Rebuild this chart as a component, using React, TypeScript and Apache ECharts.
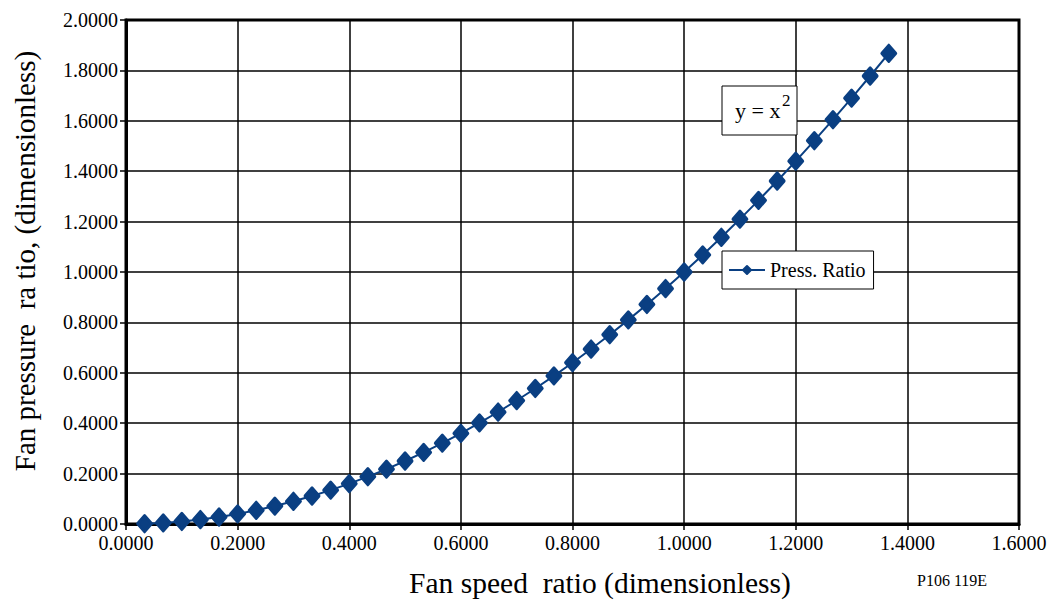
import React, { useEffect, useRef } from "react";
import * as echarts from "echarts";

const speedRatio = [
  0.0333, 0.0667, 0.1, 0.1333, 0.1667, 0.2, 0.2333, 0.2667, 0.3, 0.3333,
  0.3667, 0.4, 0.4333, 0.4667, 0.5, 0.5333, 0.5667, 0.6, 0.6333, 0.6667,
  0.7, 0.7333, 0.7667, 0.8, 0.8333, 0.8667, 0.9, 0.9333, 0.9667, 1.0,
  1.0333, 1.0667, 1.1, 1.1333, 1.1667, 1.2, 1.2333, 1.2667, 1.3, 1.3333,
  1.3667,
];
const pressRatio = [
  0.0011, 0.0044, 0.01, 0.0178, 0.0278, 0.04, 0.0544, 0.0711, 0.09, 0.1111,
  0.1344, 0.16, 0.1878, 0.2178, 0.25, 0.2844, 0.3211, 0.36, 0.4011, 0.4444,
  0.49, 0.5378, 0.5878, 0.64, 0.6944, 0.7511, 0.81, 0.8711, 0.9344, 1.0,
  1.0678, 1.1378, 1.21, 1.2844, 1.3611, 1.44, 1.5211, 1.6044, 1.69, 1.7778,
  1.8678,
];
const seriesName = "Press. Ratio";
const xAxisTitle = "Fan speed  ratio (dimensionless)";
const yAxisTitle = "Fan pressure  ra tio, (dimensionless)";
const formulaText = "y = x";
const formulaExp = "2";
const footnote = "P106 119E";

const FONT = "Liberation Serif";
const BLUE = "#0a3f82";

export default function App() {
  const ref = useRef<HTMLDivElement>(null);
  useEffect(() => {
    const chart = echarts.init(ref.current!, undefined, { renderer: "svg" });
    const data = speedRatio.map((x, i) => [x, pressRatio[i]]);
    const labelStyle = {
      fontFamily: FONT,
      fontSize: 20,
      color: "#000",
      formatter: (v: number) => v.toFixed(4),
    };
    chart.setOption({
      animation: false,
      backgroundColor: "#ffffff",
      textStyle: { fontFamily: FONT, fontSize: 20, color: "#000" },
      grid: {
        left: 126,
        right: 37,
        top: 20,
        bottom: 76,
        show: true,
        borderColor: "#000",
        borderWidth: 3,
      },
      xAxis: {
        type: "value",
        min: 0,
        max: 1.6,
        interval: 0.2,
        name: xAxisTitle,
        nameLocation: "middle",
        nameGap: 44,
        nameTextStyle: { fontFamily: FONT, fontSize: 29.5, color: "#000", padding: [0, 0, 0, 55] },
        axisLine: { show: true, lineStyle: { color: "#000", width: 3 } },
        axisTick: { show: true, length: 6, lineStyle: { color: "#000", width: 1.5 } },
        axisLabel: { ...labelStyle, margin: 9 },
        splitLine: { show: true, lineStyle: { color: "#000", width: 1.5 } },
      },
      yAxis: {
        type: "value",
        min: 0,
        max: 2,
        interval: 0.2,
        name: yAxisTitle,
        nameLocation: "middle",
        nameGap: 87,
        nameTextStyle: { fontFamily: FONT, fontSize: 29, color: "#000", padding: [0, 0, 0, 22] },
        axisLine: { show: true, lineStyle: { color: "#000", width: 3 } },
        axisTick: { show: true, length: 6, lineStyle: { color: "#000", width: 1.5 } },
        axisLabel: { ...labelStyle, margin: 8 },
        splitLine: { show: true, lineStyle: { color: "#000", width: 1.5 } },
      },
      legend: {
        show: true,
        left: 722,
        top: 251,
        orient: "horizontal",
        backgroundColor: "#fff",
        borderColor: "#000",
        borderWidth: 1,
        padding: [9, 8, 9, 6],
        itemWidth: 36,
        itemHeight: 10,
        itemGap: 4,
        textStyle: { fontFamily: FONT, fontSize: 20, color: "#000" },
        data: [{ name: seriesName }],
      },
      series: [
        {
          name: seriesName,
          type: "line",
          data,
          symbol: "diamond",
          symbolSize: [14, 16],
          itemStyle: { color: BLUE, borderColor: BLUE, borderWidth: 3, borderJoin: "round" },
          lineStyle: { color: BLUE, width: 2 },
          z: 5,
        },
      ],
      graphic: [
        {
          type: "rect",
          z: 10,
          shape: { x: 722, y: 86, width: 75, height: 49 },
          style: { fill: "#fff", stroke: "#000", lineWidth: 1 },
        },
        {
          type: "text",
          z: 11,
          x: 735,
          y: 110,
          style: {
            text: formulaText,
            fontFamily: FONT,
            fontSize: 22,
            fill: "#000",
            verticalAlign: "middle",
          },
        },
        {
          type: "text",
          z: 11,
          x: 782,
          y: 100,
          style: {
            text: formulaExp,
            fontFamily: FONT,
            fontSize: 17,
            fill: "#000",
            verticalAlign: "middle",
          },
        },
        {
          type: "text",
          left: 917,
          top: 572,
          style: { text: footnote, fontFamily: FONT, fontSize: 16, fill: "#000" },
        },
      ],
    });
    return () => chart.dispose();
  }, []);
  return (
    <div
      ref={ref}
      style={{ position: "fixed", left: 0, top: 0, width: 1056, height: 603 }}
    />
  );
}
